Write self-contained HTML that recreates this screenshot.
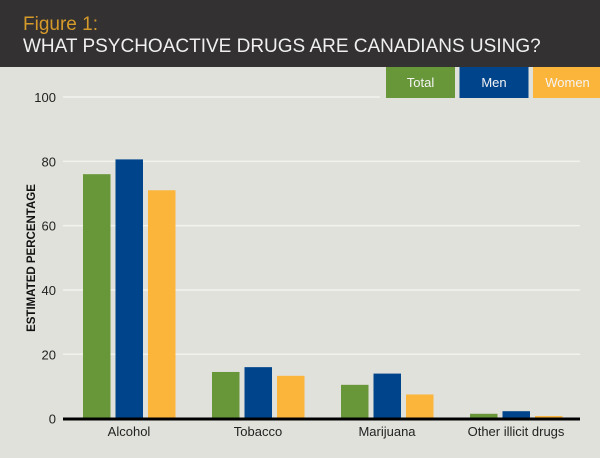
<!DOCTYPE html>
<html><head><meta charset="utf-8"><style>
body{margin:0;width:600px;height:453px;overflow:hidden;background:#e1e1dc;font-family:"Liberation Sans",sans-serif}
</style></head><body>
<svg width="600" height="453">
<rect width="600" height="453" fill="#e1e1dc"/>
<rect width="600" height="67" fill="#333132"/>
<text x="23" y="30" font-size="19" fill="#d59a2a">Figure 1:</text>
<text x="23" y="52" font-size="19" fill="#f0f0f0">WHAT PSYCHOACTIVE DRUGS ARE CANADIANS USING?</text>
<g id="grid"></g>
<g id="bars"></g>
<line x1="63" x2="580" y1="419" y2="419" stroke="#000" stroke-width="3"/>
<g id="labels"></g>
<text transform="translate(35,258) rotate(-90)" text-anchor="middle" font-size="11.5" font-weight="bold" fill="#111">ESTIMATED PERCENTAGE</text>
<g id="legend"></g>
</svg>
<script>
const categories=["Alcohol","Tobacco","Marijuana","Other illicit drugs"];
const seriesNames=["Total","Men","Women"];
const totalVals=[76,14.5,10.5,1.5];
const menVals=[80.6,16,14,2.3];
const womenVals=[71,13.3,7.5,0.8];
const yTicks=[0,20,40,60,80,100];
const colors=["#68973a","#00458c","#fbb53b"];
const series=[totalVals,menVals,womenVals];
const ns="http://www.w3.org/2000/svg";
const y=v=>418.6-v*3.216;
const gx=i=>83+i*129;
function mk(tag,attrs,parent,txt){const e=document.createElementNS(ns,tag);for(const k in attrs)e.setAttribute(k,attrs[k]);if(txt!=null)e.textContent=txt;parent.appendChild(e);return e;}
const grid=document.getElementById('grid');
yTicks.forEach(t=>{
  if(t>0){const l=mk('line',{x1:63,x2:t==100?380:580,y1:y(t),y2:y(t),stroke:'#f2f2ee','stroke-width':1.5},grid);
  
  }
  const tx=mk('text',{x:56,y:y(t)+5,'text-anchor':'end','font-size':13,fill:'#222'},grid,t);
  
  
});
const bars=document.getElementById('bars');
categories.forEach((c,i)=>{
  series.forEach((s,j)=>{
    const r=mk('rect',{x:gx(i)+j*32.5,y:y(s[i]),width:27.5,height:y(0)-y(s[i]),fill:colors[j]},bars);
    
    
  });
  const t=mk('text',{x:gx(i)+46,y:436,'text-anchor':'middle','font-size':13,fill:'#222'},document.getElementById('labels'),c);
  
  
});
const lg=document.getElementById('legend');
seriesNames.forEach((n,j)=>{
  const x=386+j*73.5;
  const r=mk('rect',{x:x,y:67,width:69,height:31,fill:colors[j]},lg);
  
  
  const t=mk('text',{x:x+34.5,y:87,'text-anchor':'middle','font-size':13,fill:'#f4f4f4'},lg,n);
  
  
});
</script>
</body></html>
